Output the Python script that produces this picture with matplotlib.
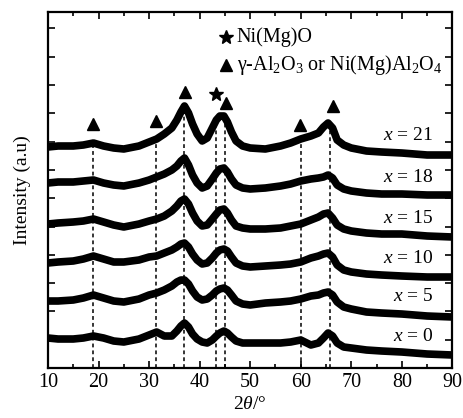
import matplotlib
matplotlib.use("Agg")
import matplotlib.pyplot as plt
import numpy as np
from matplotlib.ticker import MultipleLocator

plt.rcParams['font.family'] = ['Liberation Serif', 'DejaVu Serif']
plt.rcParams['mathtext.fontset'] = 'custom'
plt.rcParams['mathtext.rm'] = 'Liberation Serif'
plt.rcParams['mathtext.it'] = 'Liberation Serif:italic'

# 2theta grid (deg) and stacked intensities (a.u., offsets included)
two_theta = [10, 12, 15, 17, 19, 21, 23, 25, 28, 30, 31.5, 33, 34.5, 35.5, 36.3, 37, 37.8, 38.6, 39.5, 40.5,
             41.5, 42.5, 43.3, 44, 44.8, 45.5, 46.3, 47.2, 48.5, 50, 53, 56, 58, 60, 62, 63.5, 64.5, 65.4, 66.3, 67.2,
             68.5, 70, 73, 76, 80, 85, 90]

x21 = [221, 222, 222, 223, 225, 222, 220, 219, 222, 226, 229, 234, 240, 248, 256, 262, 255, 244, 234, 227,
       230, 240, 248, 252, 252, 246, 236, 227, 222, 220, 219, 222, 225, 229, 232, 235, 241, 245, 240, 228,
       223, 220, 217, 216, 215, 213, 213]
x18 = [185, 186, 186, 187, 188, 185, 183, 182, 185, 188, 191, 194, 198, 202, 207, 210, 203, 193, 185, 180,
       182, 189, 195, 199, 200, 196, 189, 183, 180, 179, 180, 182, 184, 187, 189, 190, 191, 193, 190, 183,
       179, 177, 175, 174, 174, 173, 173]
x15 = [144, 145, 146, 147, 149, 146, 143, 141, 144, 147, 149, 152, 157, 162, 167, 169, 164, 155, 147, 142,
       143, 149, 154, 158, 159, 155, 148, 142, 140, 139, 139, 140, 142, 144, 148, 151, 154, 155, 150, 143,
       139, 137, 135, 134, 134, 132, 131]
x10 = [105, 106, 107, 109, 112, 109, 106, 106, 108, 111, 112, 115, 118, 121, 124, 125, 121, 114, 108, 104,
       105, 110, 115, 118, 119, 117, 111, 105, 102, 101, 102, 103, 104, 106, 110, 112, 114, 115, 111, 103,
       98, 96, 94, 93, 92, 91, 91]
x5 = [67, 67, 68, 70, 73, 70, 67, 66, 69, 73, 75, 78, 82, 86, 88, 88, 84, 77, 71, 68,
      69, 73, 77, 79, 80, 78, 73, 67, 64, 63, 65, 66, 67, 69, 72, 73, 75, 76, 73, 66,
      61, 59, 56, 55, 54, 52, 51]
x0 = [30, 29, 29, 30, 32, 30, 27, 26, 29, 33, 36, 32, 32, 37, 42, 45, 41, 34, 29, 26,
      25, 28, 32, 35, 37, 35, 31, 27, 25, 25, 25, 25, 26, 28, 23, 25, 30, 35, 32, 25,
      21, 20, 18, 17, 16, 14, 13]

curves = [x0, x5, x10, x15, x18, x21]
labels = ["0", "5", "10", "15", "18", "21"]
label_y = [32, 72, 110, 150, 191, 233]

# reference lines and phase markers
ref_lines = [18.9, 31.4, 36.9, 43.3, 45.1, 60.0, 65.8]
tri_x = [18.9, 31.4, 37.2, 45.2, 59.9, 66.4]
tri_y = [244, 247, 276, 265, 243, 262]
star_x = [43.3]
star_y = [274]

fig = plt.figure(figsize=(4.64, 4.18), dpi=100)
ax = fig.add_axes([0.1034, 0.1196, 0.8716, 0.8517])

top = np.array(x21)
for xv in ref_lines:
    ax.plot([xv, xv], [0, np.interp(xv, two_theta, top)], color='black', lw=1.1,
            ls=(0, (2.5, 2)), zorder=1)

for y in curves:
    ax.plot(two_theta, y, color='black', lw=5.5, solid_joinstyle='round', zorder=2)

for lab, ly in zip(labels, label_y):
    ax.text(86.2, ly, "$x$ = " + lab, ha='right', va='center', fontsize=14)

ax.plot(tri_x, tri_y, ls='none', marker='^', ms=9, color='black', zorder=3)
ax.plot(star_x, star_y, ls='none', marker='*', ms=10, color='black', zorder=3)

# legend-like annotation
ax.plot([45.3], [331], ls='none', marker='*', ms=10, color='black')
ax.text(47.3, 331, "Ni(Mg)O", va='center', fontsize=14.5)
ax.plot([45.3], [303], ls='none', marker='^', ms=9, color='black')
ax.text(47.3, 303, "γ-Al$_2$O$_3$ or Ni(Mg)Al$_2$O$_4$", va='center', fontsize=14.5)

ax.set_xlim(10, 90)
ax.set_ylim(0, 356)
ax.xaxis.set_major_locator(MultipleLocator(10))
ax.xaxis.set_minor_locator(MultipleLocator(5))
ax.yaxis.set_major_locator(MultipleLocator(28.3))
ax.set_yticklabels([])
ax.tick_params(which='both', direction='in', top=True, right=True, width=1.2)
ax.tick_params(which='major', length=5, labelsize=14.5)
ax.tick_params(which='minor', length=3)
for s in ax.spines.values():
    s.set_linewidth(1.6)

ax.set_xlabel(r"2$\theta$/°", fontsize=14, labelpad=3)
ax.set_ylabel("Intensity (a.u)", fontsize=14, labelpad=9)

fig.savefig("out.png", dpi=100)
